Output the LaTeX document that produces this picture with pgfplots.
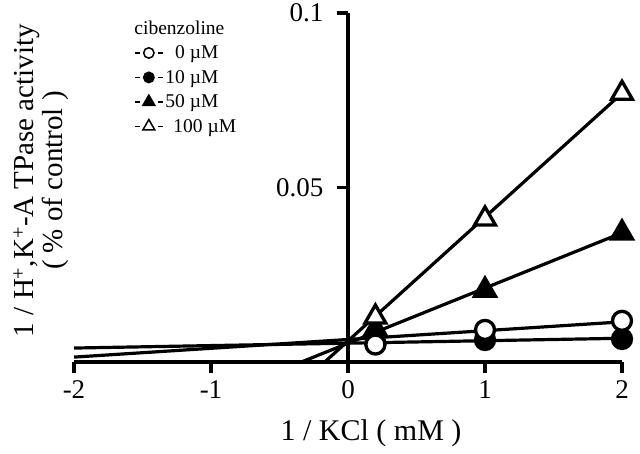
\documentclass[border=0pt]{standalone}
\usepackage{pgfplots}
\pgfplotsset{compat=1.18}
\usepackage{fontspec}
\setmainfont{Liberation Serif}
\newcommand{\lgf}{\fontsize{19.5}{21}\selectfont}

\begin{document}
\begin{tikzpicture}
\useasboundingbox (-74pt,-91pt) rectangle (566pt,362pt);
\begin{axis}[
  scale only axis, width=548pt, height=349pt,
  xmin=-2, xmax=2, ymin=0, ymax=0.1,
  axis x line=bottom, axis y line=center,
  axis line style={line width=3.5pt},
  every inner y axis line/.append style={-},
  every outer x axis line/.append style={-},
  tick align=outside,
  major tick length=11pt,
  every tick/.style={black, line width=3.5pt},
  xtick={-2,-1,0,1,2}, xticklabels={-2,-1,0,1,2},
  ytick={0.05,0.1}, yticklabels={0.05,0.1},
  ticklabel style={font=\fontsize{27}{30}\selectfont},
  xticklabel style={yshift=-4pt},
  yticklabel style={xshift=-10pt},
  /pgf/number format/assume math mode=true,
  clip=false,
  every axis x label/.style={at={(axis description cs:0.542,-0.203)}, anchor=center, font=\fontsize{30}{33}\selectfont},
  every axis y label/.style={at={(axis description cs:-0.06,0.52)}, rotate=90, anchor=center, align=center, font=\fontsize{29}{29}\selectfont},
  xlabel={1 / KCl ( mM )},
  ylabel={1 / H\textsuperscript{+},K\textsuperscript{+}-A TPase activity\\( \% of control )},
  legend style={at={(axis description cs:0.104,0.99)}, anchor=north west, draw=none, fill=none, row sep=6pt},
  legend cell align=left,
  legend image code/.code={
    \draw[black, line width=1.3pt] (0pt,0pt)--(5pt,0pt) (23pt,0pt)--(28pt,0pt);
    \draw[#1] plot coordinates {(14pt,0pt)};
  },
]
% regression lines
\addplot[black, line width=3.2pt, forget plot] coordinates {(-2,0.0014) (2,0.0115)};
\addplot[black, line width=3.2pt, forget plot] coordinates {(-2,0.0040) (2,0.0068)};
\addplot[black, line width=3.2pt, forget plot] coordinates {(-0.34,0) (2,0.037)};
\addplot[black, line width=3.2pt, forget plot] coordinates {(-0.17,0) (2,0.077)};
% data points: 10, 50, 100, 0 uM
\addplot[only marks, black, line width=3.3pt, mark=*, mark size=9.5pt, mark options={line width=3.3pt}, forget plot]
  coordinates {(0.2,0.0052) (1,0.0063) (2,0.0066)};
\addplot[only marks, black, line width=3.3pt, mark=triangle*, mark size=12pt, mark options={line width=3.3pt}, forget plot]
  coordinates {(0.2,0.0095) (1,0.0206) (2,0.037)};
\addplot[only marks, black, line width=3.3pt, mark=triangle*, mark size=12pt, mark options={fill=white, line width=3.3pt}, forget plot]
  coordinates {(0.2,0.0129) (1,0.041) (2,0.077)};
\addplot[only marks, black, line width=3.3pt, mark=*, mark size=9.5pt, mark options={fill=white, line width=3.3pt}, forget plot]
  coordinates {(0.2,0.0050) (1,0.0092) (2,0.0118)};
% legend
\addlegendimage{empty legend}
\addlegendentry{\lgf\hspace*{-31pt}cibenzoline}
\addlegendimage{black, mark=*, mark size=5.2pt, mark options={fill=white, line width=1.5pt}}
\addlegendentry{\lgf\hphantom{1}0 µM}
\addlegendimage{black, mark=*, mark size=5.2pt, mark options={line width=1.5pt}}
\addlegendentry{\lgf 10 µM}
\addlegendimage{black, mark=triangle*, mark size=6.8pt, mark options={line width=1.5pt}}
\addlegendentry{\lgf 50 µM}
\addlegendimage{black, mark=triangle*, mark size=6.8pt, mark options={fill=white, line width=1.5pt}}
\addlegendentry{\lgf\hspace*{8pt}100 µM}
\end{axis}
\end{tikzpicture}
\end{document}
